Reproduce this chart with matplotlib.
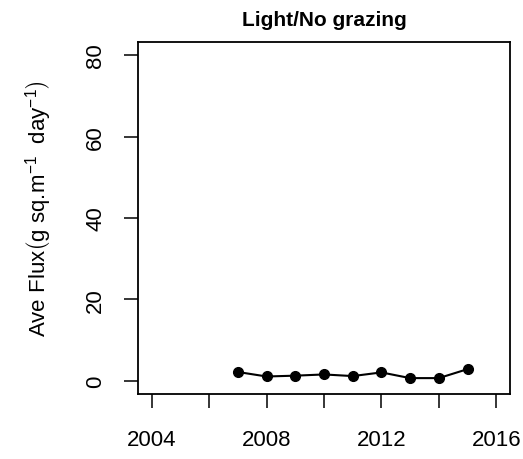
import matplotlib.pyplot as plt

plt.rcParams['font.family'] = ['Liberation Sans', 'DejaVu Sans']
plt.rcParams['mathtext.fontset'] = 'custom'
plt.rcParams['mathtext.rm'] = 'Liberation Sans'
plt.rcParams['mathtext.it'] = 'Liberation Sans'

# data
years = [2007, 2008, 2009, 2010, 2011, 2012, 2013, 2014, 2015]
flux = [2.2, 1.1, 1.3, 1.6, 1.2, 2.1, 0.7, 0.7, 2.9]
flux_err = [0.3, 0.2, 0.2, 0.2, 0.2, 0.3, 0.2, 0.2, 0.8]
x_ticks = [2004, 2006, 2008, 2010, 2012, 2014, 2016]
x_labels = ['2004', '', '2008', '', '2012', '', '2016']
y_ticks = [0, 20, 40, 60, 80]

fig = plt.figure(figsize=(5.23, 4.6), dpi=100)
ax = fig.add_axes([0.2639, 0.1413, 0.7112, 0.7652])

ax.errorbar(years, flux, yerr=flux_err, color='black', lw=1.5,
            marker='o', ms=7, capsize=2, elinewidth=1.2)

ax.set_xlim(2004 - 0.48, 2016 + 0.48)
ax.set_ylim(-3.2, 83.2)
ax.set_xticks(x_ticks)
ax.set_xticklabels(x_labels)
ax.set_yticks(y_ticks)
ax.set_yticklabels([str(v) for v in y_ticks], rotation=90, va='center')

ax.tick_params(axis='both', direction='out', length=10, width=1.1,
               labelsize=16, pad=15)
ax.tick_params(axis='y', pad=13)
for s in ax.spines.values():
    s.set_linewidth(1.3)

ax.set_title('Light/No grazing', fontsize=15, fontweight='bold', pad=12)
ax.set_ylabel(r'Ave Flux$\left(\mathrm{g\ sq.\!m^{-1}\ \ day^{-1}}\right)$',
              fontsize=16)
ax.yaxis.set_label_coords(-0.227, 0.53)

fig.savefig('out.png', dpi=100)
